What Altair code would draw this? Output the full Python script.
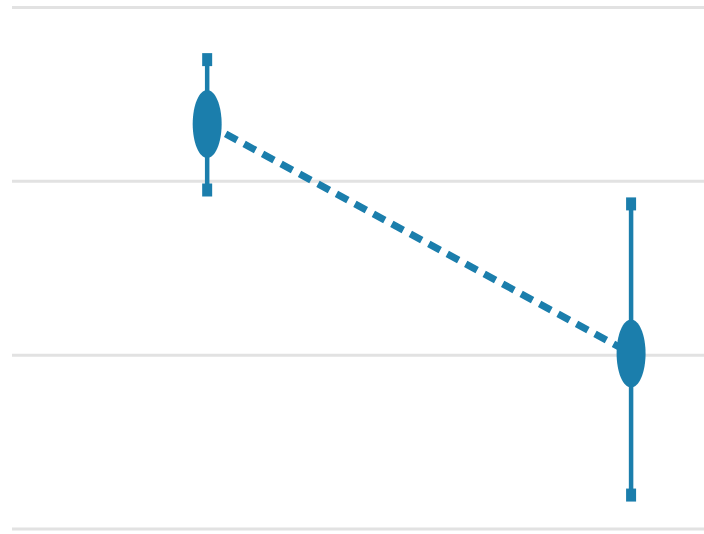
import altair as alt
import pandas as pd

# Two group means with their intervals
groups = ["Group A", "Group B"]
means = [2.33, 1.01]
lows = [1.95, 0.195]
highs = [2.70, 1.87]
grid_values = [0, 1, 2, 3]

COLOR = "#1b7eac"

df = pd.DataFrame({"group": groups, "mean": means, "low": lows, "high": highs})
grid = pd.DataFrame({"v": grid_values})

x_enc = alt.X("group:N", sort=groups, axis=None,
              scale=alt.Scale(type="point", padding=0.328, align=0.745))
y_scale = alt.Scale(domain=[-0.029, 3.043], nice=False, zero=False)

gridlines = alt.Chart(grid).mark_rule(color="#e2e2e2", strokeWidth=3).encode(
    y=alt.Y("v:Q", scale=y_scale, axis=None),
    x=alt.value(12),
    x2=alt.value(704),
)

connector = alt.Chart(df).mark_line(
    color=COLOR, strokeWidth=7, strokeDash=[13, 8], strokeCap="butt"
).encode(x=x_enc, y=alt.Y("mean:Q", scale=y_scale, axis=None))

whiskers = alt.Chart(df).mark_rule(color=COLOR, strokeWidth=4.5).encode(
    x=x_enc,
    y=alt.Y("low:Q", scale=y_scale, axis=None),
    y2="high:Q",
)

cap_shape = "M-0.5,-0.65 L0.5,-0.65 L0.5,0.65 L-0.5,0.65 Z"
caps_low = alt.Chart(df).mark_point(
    shape=cap_shape, size=400, filled=True, color=COLOR, opacity=1
).encode(x=x_enc, y=alt.Y("low:Q", scale=y_scale, axis=None))
caps_high = alt.Chart(df).mark_point(
    shape=cap_shape, size=400, filled=True, color=COLOR, opacity=1
).encode(x=x_enc, y=alt.Y("high:Q", scale=y_scale, axis=None))

ellipse = "M0,-1 A0.426,1 0 1,1 0,1 A0.426,1 0 1,1 0,-1 Z"
markers = alt.Chart(df).mark_point(
    shape=ellipse, size=4624, filled=True, color=COLOR, opacity=1
).encode(x=x_enc, y=alt.Y("mean:Q", scale=y_scale, axis=None))

chart = (
    alt.layer(gridlines, connector, whiskers, caps_low, caps_high, markers)
    .properties(
        width=704,
        height=534,
        padding=0,
        autosize=alt.AutoSizeParams(type="fit", contains="padding"),
        background="white",
    )
    .configure_view(stroke=None)
)

chart.save("out.html", embed_options={"renderer": "svg", "actions": False})
